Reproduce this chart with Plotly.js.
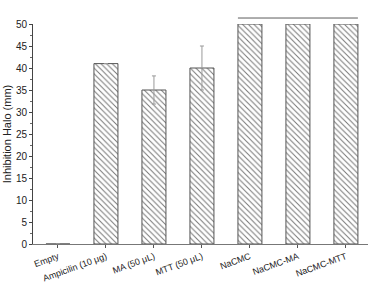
<!DOCTYPE html>
<html><head><meta charset="utf-8">
<script src="https://cdn.plot.ly/plotly-3.0.1.min.js"></script>
<style>html,body{margin:0;padding:0;background:#fff}#c{width:374px;height:287px}</style>
</head><body><div id="c"></div>
<script>
var categories = ["Empty", "Ampicilin (10 μg)", "MA (50 μL)", "MTT (50 μL)", "NaCMC", "NaCMC-MA", "NaCMC-MTT"];
var values = [0, 41, 35, 40, 50, 50, 50];
var errors = [0, 0, 3.2, 5.0, 0, 0, 0];
var sigLabels = ["", "S", "S", "S", "", "", ""];
var valueLabels = ["", "41±0.0", "35±3.2", "40±5.0", "", "", ""];
var bannerText = "High inhibition, immeasurable (S)";
var bannerFrom = 4, bannerTo = 6;

var font = "Liberation Sans, Arial, sans-serif";
var xRange = [-0.52, 6.46];
var yRange = [0, 50];
var idx = categories.map(function(_, i){return i;});

// label positions derived from the data (offsets are layout constants)
var labIdx = [], labTop = [], labText = [], sigX = [], sigY = [], sigText = [];
for (var i = 0; i < categories.length; i++) {
  var top = values[i] + errors[i];
  if (valueLabels[i]) { labIdx.push(i); labTop.push(top + 1); labText.push(valueLabels[i]); }
  if (sigLabels[i]) { sigX.push(i - 0.06); sigY.push(top + 5.7); sigText.push(sigLabels[i]); }
}
var arrowL = bannerFrom - 0.25, arrowR = bannerTo + 0.25, arrowY = 51.36;
function toPaperX(v){ return (v - xRange[0]) / (xRange[1] - xRange[0]); }
function toPaperY(v){ return (v - yRange[0]) / (yRange[1] - yRange[0]); }

var base = {type: "bar", x: idx, y: values, width: 0.5, hoverinfo: "skip",
  marker: {color: "#fff", line: {color: "#555", width: 1}}};
var lay = {width: 374, height: 287, margin: {l: 33, r: 6, t: 24, b: 43}, xaxis: {range: xRange}, yaxis: {range: yRange},
  paper_bgcolor: "#fff", plot_bgcolor: "#fff", showlegend: false, barmode: "overlay"};

var labelBars = {type: "bar", x: labIdx, y: labTop, width: 0.5, offset: -0.25 + 0.08, hoverinfo: "skip",
  marker: {color: "rgba(0,0,0,0)", line: {width: 0}}, text: labText, textposition: "outside", textangle: -45,
  constraintext: "none", cliponaxis: false, textfont: {family: font, size: 8, color: "#333"}};
var sigTrace = {type: "scatter", mode: "text", x: sigX, y: sigY, text: sigText, textposition: "middle center",
  cliponaxis: false, hoverinfo: "skip", textfont: {family: font, size: 8, color: "#333"}};
var bannerTrace = {type: "scatter", mode: "text", x: [(bannerFrom + bannerTo) / 2], y: [53.9], text: [bannerText],
  textposition: "middle center", cliponaxis: false, hoverinfo: "skip", textfont: {family: font, size: 7, color: "#333"}};
var arrowHeads = {type: "scatter", mode: "markers", x: [arrowL, arrowR], y: [arrowY, arrowY], cliponaxis: false, hoverinfo: "skip",
  marker: {symbol: ["triangle-left", "triangle-right"], size: 5, color: "#333", line: {width: 0}}};

var steps = [
 function(){ return Plotly.newPlot("c", [base], lay, {staticPlot: true, displayModeBar: false}); },
 function(){ return Plotly.relayout("c", {font: {family: font, size: 10, color: "#222"}}); },
 function(){ return Plotly.relayout("c", {"xaxis.showgrid": false, "xaxis.zeroline": false, "xaxis.showline": true, "xaxis.linecolor": "#777",
   "xaxis.ticks": "outside", "xaxis.ticklen": 3, "xaxis.tickcolor": "#555", "xaxis.tickfont": {family: font, size: 9, color: "#222"},
   "xaxis.tickmode": "array", "xaxis.tickvals": idx, "xaxis.ticktext": categories, "xaxis.tickangle": -20}); },
 function(){ return Plotly.relayout("c", {"yaxis.dtick": 5, "yaxis.showgrid": false, "yaxis.zeroline": false, "yaxis.showline": true,
   "yaxis.linecolor": "#444", "yaxis.ticks": "outside", "yaxis.ticklen": 3, "yaxis.tickcolor": "#444", "yaxis.tickfont": {family: font, size: 10, color: "#222"}}); },
 function(){ return Plotly.relayout("c", {"yaxis.title": {text: "Inhibition Halo (mm)", font: {family: font, size: 11, color: "#222"}, standoff: 2}}); },
 function(){ return Plotly.relayout("c", {"yaxis.minor": {dtick: 2.5, ticks: "outside", ticklen: 2, tickcolor: "#666"}}); },
 function(){ return Plotly.restyle("c", {"marker.pattern": {shape: "\\", size: 4, solidity: 0.25, fgcolor: "#777", bgcolor: "#fff"}}, [0]); },
 function(){ return Plotly.restyle("c", {error_y: {type: "data", array: errors, visible: true, color: "#999", thickness: 1, width: 2}}, [0]); },
 function(){ return Plotly.addTraces("c", [labelBars]); },
 function(){ return Plotly.addTraces("c", [sigTrace]); },
 function(){ return Plotly.addTraces("c", [bannerTrace]); },
 function(){ return Plotly.addTraces("c", [arrowHeads]); },
 function(){ return Plotly.relayout("c", {shapes: [{type: "line", xref: "paper", yref: "paper",
   x0: toPaperX(arrowL), x1: toPaperX(arrowR), y0: toPaperY(arrowY), y1: toPaperY(arrowY), line: {color: "#333", width: 0.8}}]}); }
];
(async function(){
  for (var s of steps) {
    try { await s(); } catch(e) { if (window.console) console.log(e); }
  }
})();
</script></body></html>
